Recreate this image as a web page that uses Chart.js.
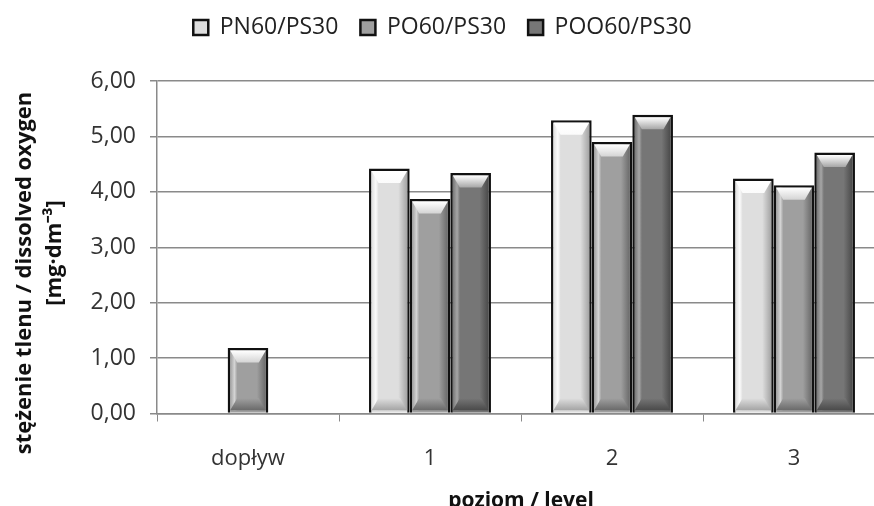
<!DOCTYPE html>
<html>
<head>
<meta charset="utf-8">
<script src="https://cdn.jsdelivr.net/npm/chart.js@4"></script>
<style>
  html, body { margin: 0; padding: 0; overflow: hidden; background: #fff; }
  #wrap { width: 890px; height: 512px; }
</style>
</head>
<body>
<div id="wrap"><canvas id="chartOxygen"></canvas></div>
<script>
// data
const levels = ['dopływ', '1', '2', '3'];
const seriesNames = ['PN60/PS30', 'PO60/PS30', 'POO60/PS30'];
const pn60 = [null, 4.42, 5.29, 4.24];
const po60 = [1.18, 3.87, 4.90, 4.12];
const poo60 = [null, 4.34, 5.39, 4.71];
const yMin = 0, yMax = 6, yStep = 1;

// grey shades for each series: [face, light, dark]
const shades = [
  ['#dedede', '#fbfbfb', '#a4a4a4'],
  ['#9f9f9f', '#d4d4d4', '#6a6a6a'],
  ['#767676', '#a6a6a6', '#4a4a4a']
];

// excel-like bevel drawn on top of every bar element
const bevel = {
  id: 'bevel',
  afterInit(chart) {
    // more room under the legend
    const fit = chart.legend.fit;
    chart.legend.fit = function () { fit.call(this); this.height += 32; };
  },
  afterDatasetsDraw(chart) {
    const c = chart.ctx;
    chart.data.datasets.forEach((ds, i) => {
      const meta = chart.getDatasetMeta(i);
      const [face, light, dark] = shades[i];
      meta.data.forEach((bar, j) => {
        if (ds.data[j] == null) return;
        const p = bar.getProps(['x', 'y', 'base', 'width'], true);
        const b = 2.5;
        const l = p.x - p.width / 2 + b, r = p.x + p.width / 2 - b;
        const t = p.y + b, bt = p.base - b;
        const sx = 7, sy = 12;
        c.save();
        // face
        let g = c.createLinearGradient(l, 0, r, 0);
        g.addColorStop(0, face);
        g.addColorStop(0.12, light);
        g.addColorStop(0.2, face);
        g.addColorStop(0.75, face);
        g.addColorStop(1, dark);
        c.fillStyle = g;
        c.fillRect(l, t, r - l, bt - t);
        // top bevel
        g = c.createLinearGradient(0, t, 0, t + sy);
        g.addColorStop(0, '#ffffff');
        g.addColorStop(1, light);
        c.fillStyle = g;
        c.beginPath();
        c.moveTo(l, t); c.lineTo(r, t); c.lineTo(r - sx, t + sy); c.lineTo(l + sx, t + sy);
        c.closePath(); c.fill();
        // bottom bevel
        g = c.createLinearGradient(0, bt - sy, 0, bt);
        g.addColorStop(0, face);
        g.addColorStop(1, dark);
        c.fillStyle = g;
        c.beginPath();
        c.moveTo(l, bt); c.lineTo(r, bt); c.lineTo(r - sx, bt - sy); c.lineTo(l + sx, bt - sy);
        c.closePath(); c.fill();
        c.restore();
      });
    });
  }
};

Chart.defaults.font.family = '"Open Sans", sans-serif';
Chart.defaults.color = '#404040';

const ctxOxygen = document.getElementById('chartOxygen').getContext('2d');
const chartOxygen = new Chart(ctxOxygen, {
  type: 'bar',
  data: {
    labels: levels,
    datasets: [
      { label: seriesNames[0], data: pn60, backgroundColor: shades[0][0] },
      { label: seriesNames[1], data: po60, backgroundColor: shades[1][0] },
      { label: seriesNames[2], data: poo60, backgroundColor: shades[2][0] }
    ]
  },
  options: {
    responsive: true,
    maintainAspectRatio: false,
    animation: false,
    layout: { padding: { left: 0, right: 5, top: -6, bottom: 0 } },
    datasets: {
      bar: {
        borderColor: '#111',
        borderWidth: 2.5,
        categoryPercentage: 0.67,
        barPercentage: 1
      }
    },
    plugins: {
      legend: {
        position: 'top',
        labels: {
          font: { size: 23 },
          color: '#222',
          boxWidth: 15,
          boxHeight: 15,
          padding: 22
        }
      },
      tooltip: { enabled: false }
    },
    scales: {
      x: {
        afterFit(s) { s.height = 98.5; },
        grid: {
          offset: true,
          drawOnChartArea: false,
          drawTicks: true,
          tickLength: 8,
          color: '#8a8a8a'
        },
        border: { color: '#8a8a8a', width: 1.5 },
        ticks: { font: { size: 22 }, padding: 24, color: '#333' },
        title: {
          display: true,
          text: 'poziom / level',
          font: { size: 21, weight: 'bold' },
          color: '#111',
          padding: { top: 0, bottom: -2 }
        }
      },
      y: {
        min: yMin,
        max: yMax,
        afterFit(s) { s.width = 157; },
        grid: { color: '#8a8a8a', lineWidth: 1.5, tickLength: 7 },
        border: { color: '#8a8a8a', width: 1.5 },
        ticks: {
          stepSize: yStep,
          font: { size: 23 },
          padding: 14,
          color: '#333',
          callback: v => v.toFixed(2).replace('.', ',')
        },
        title: {
          display: true,
          text: ['stężenie tlenu / dissolved oxygen         ', '[mg·dm⁻³]  '],
          font: { size: 22, weight: 'bold', lineHeight: 1.35 },
          color: '#111',
          padding: { top: 10, bottom: 0 }
        }
      }
    }
  },
  plugins: [bevel]
});
</script>
</body>
</html>
